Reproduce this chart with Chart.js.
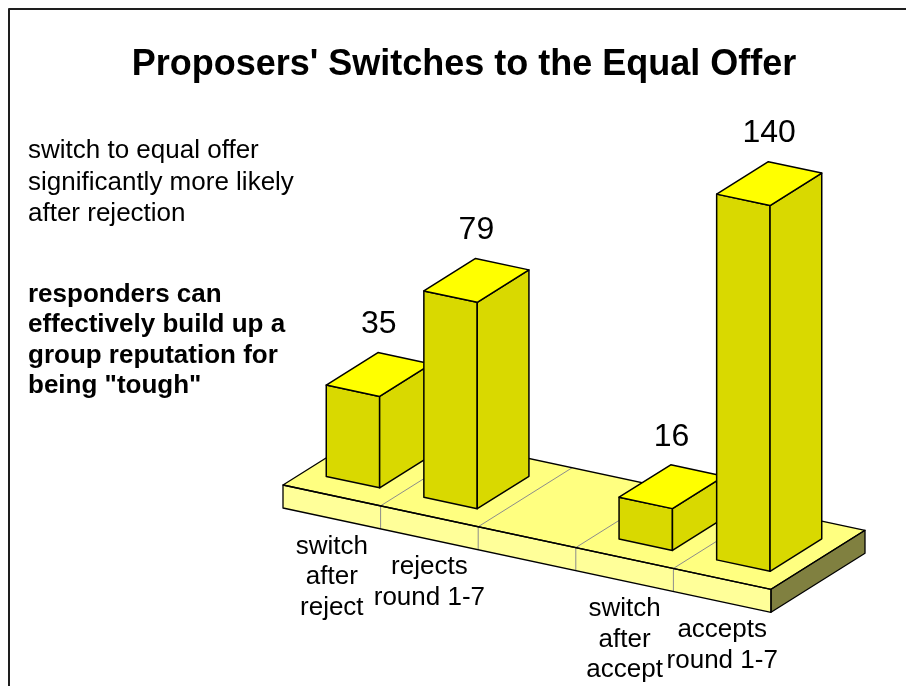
<!DOCTYPE html>
<html>
<head>
<meta charset="utf-8">
<script src="https://cdn.jsdelivr.net/npm/chart.js@4.4.1/dist/chart.umd.min.js"></script>
<style>
html,body{margin:0;padding:0;background:#ffffff;}
#wrap{width:906px;height:686px;position:relative;}
</style>
</head>
<body>
<div id="wrap"><canvas id="c" width="906" height="686"></canvas></div>
<script>
// ---- data ----
const chartTitle = "Proposers' Switches to the Equal Offer";
const categories = [
  ["switch", "after", "reject"],
  ["rejects", "round 1-7"],
  [""],
  ["switch", "after", "accept"],
  ["accepts", "round 1-7"]
];
const switchCounts = [35, 79, null, 16, 140];
const noteRegular = ["switch to equal offer", "significantly more likely", "after rejection"];
const noteBold = ["responders can", "effectively build up a", "group reputation for", "being \"tough\""];
const yMax = 160;

// ---- style / projection constants ----
const FONT = '"Liberation Sans", Arial, Helvetica, sans-serif';
const SLOPE = 0.2137;            // rise of the floor front edge per px
const DEPTH = { x: 94, y: -59 }; // full floor depth vector
const SLAB = 23;                 // floor slab thickness
const BAR_W = 0.547;             // bar width as a fraction of a category
const T0 = 0.225, T1 = 0.775;    // bar front / back depth fractions

function poly(ctx, pts, fill, stroke, lw) {
  ctx.beginPath();
  ctx.moveTo(pts[0][0], pts[0][1]);
  for (let i = 1; i < pts.length; i++) ctx.lineTo(pts[i][0], pts[i][1]);
  ctx.closePath();
  if (fill) { ctx.fillStyle = fill; ctx.fill(); }
  if (stroke) { ctx.strokeStyle = stroke; ctx.lineWidth = lw || 1; ctx.stroke(); }
}

const bar3d = {
  id: 'bar3d',
  beforeDatasetsDraw(chart) {
    const ctx = chart.ctx;
    const ca = chart.chartArea;
    const xs = chart.scales.x, ys = chart.scales.y;
    const catW = xs.getPixelForValue(1) - xs.getPixelForValue(0);
    const y0 = ys.getPixelForValue(0);
    const pt = (x, t, h) => [x + t * DEPTH.x, ca.bottom + SLOPE * (x - ca.left) + t * DEPTH.y - h];
    ctx.save();
    ctx.lineJoin = 'round';

    // frame
    ctx.strokeStyle = '#1e1e1e';
    ctx.lineWidth = 2;
    ctx.strokeRect(9, 9, 1200, 1200);

    // title
    ctx.fillStyle = '#000';
    ctx.textAlign = 'center';
    ctx.textBaseline = 'alphabetic';
    ctx.font = 'bold 36px ' + FONT;
    ctx.fillText(chartTitle, 464, 75);

    // notes
    ctx.textAlign = 'left';
    ctx.font = '26px ' + FONT;
    noteRegular.forEach((s, i) => ctx.fillText(s, 28, 158 + i * 31.5));
    ctx.font = 'bold 26px ' + FONT;
    noteBold.forEach((s, i) => ctx.fillText(s, 28, 302 + i * 30.3));

    // floor slab
    const L = ca.left, R = ca.right;
    poly(ctx, [pt(L, 0, 0), pt(R, 0, 0), pt(R, 1, 0), pt(L, 1, 0)], '#FFFF80');
    poly(ctx, [pt(L, 0, 0), pt(R, 0, 0), pt(R, 0, -SLAB), pt(L, 0, -SLAB)], '#FFFF99');
    poly(ctx, [pt(R, 0, 0), pt(R, 1, 0), pt(R, 1, -SLAB), pt(R, 0, -SLAB)], '#808040');
    ctx.strokeStyle = '#8c8c8c';
    ctx.lineWidth = 1;
    for (let k = 1; k < categories.length; k++) {
      const x = L + k * catW;
      const a = pt(x, 0, 0), b = pt(x, 1, 0), c = pt(x, 0, -SLAB);
      ctx.beginPath(); ctx.moveTo(a[0], a[1]); ctx.lineTo(b[0], b[1]); ctx.stroke();
      ctx.beginPath(); ctx.moveTo(a[0], a[1]); ctx.lineTo(c[0], c[1]); ctx.stroke();
    }
    poly(ctx, [pt(L, 0, 0), pt(R, 0, 0), pt(R, 1, 0), pt(L, 1, 0)], null, '#000', 1.3);
    poly(ctx, [pt(L, 0, 0), pt(R, 0, 0), pt(R, 0, -SLAB), pt(L, 0, -SLAB)], null, '#000', 1.3);
    poly(ctx, [pt(R, 0, 0), pt(R, 1, 0), pt(R, 1, -SLAB), pt(R, 0, -SLAB)], null, '#000', 1.3);

    // bars (left to right so nearer bars overlap)
    switchCounts.forEach((v, i) => {
      if (v === null || v === undefined) return;
      const c = xs.getPixelForValue(i);
      const xl = c - BAR_W / 2 * catW, xr = c + BAR_W / 2 * catW;
      const h = y0 - ys.getPixelForValue(v);
      poly(ctx, [pt(xl, T0, 0), pt(xr, T0, 0), pt(xr, T0, h), pt(xl, T0, h)], '#D9D900', '#000', 1.5);
      poly(ctx, [pt(xr, T0, 0), pt(xr, T1, 0), pt(xr, T1, h), pt(xr, T0, h)], '#D9D900', '#000', 1.5);
      poly(ctx, [pt(xl, T0, h), pt(xr, T0, h), pt(xr, T1, h), pt(xl, T1, h)], '#FFFF00', '#000', 1.5);
    });

    // value labels
    ctx.fillStyle = '#000';
    ctx.textAlign = 'center';
    ctx.textBaseline = 'middle';
    ctx.font = '32px ' + FONT;
    switchCounts.forEach((v, i) => {
      if (v === null || v === undefined) return;
      const c = xs.getPixelForValue(i);
      const h = y0 - ys.getPixelForValue(v);
      const p = pt(c, 0.5, h);
      ctx.fillText(String(v), p[0], p[1] - 50);
    });

    // category labels
    ctx.font = '26px ' + FONT;
    categories.forEach((lines, i) => {
      const c = xs.getPixelForValue(i);
      const base = pt(c, 0, -SLAB)[1] + 28;
      lines.forEach((s, j) => ctx.fillText(s, c, base + j * 30.5));
    });
    ctx.restore();
  }
};

new Chart(document.getElementById('c'), {
  type: 'bar',
  data: {
    labels: categories,
    datasets: [{
      label: 'Switches',
      data: switchCounts,
      backgroundColor: 'rgba(0,0,0,0)',
      borderWidth: 0
    }]
  },
  options: {
    responsive: false,
    devicePixelRatio: 1,
    animation: false,
    layout: { padding: { left: 283, right: 135, top: 67, bottom: 201 } },
    plugins: { legend: { display: false }, title: { display: false }, tooltip: { enabled: false } },
    scales: {
      x: { type: 'category', display: false, offset: true, grid: { display: false } },
      y: { type: 'linear', display: false, min: 0, max: yMax, grid: { display: false } }
    }
  },
  plugins: [bar3d]
});
</script>
</body>
</html>
